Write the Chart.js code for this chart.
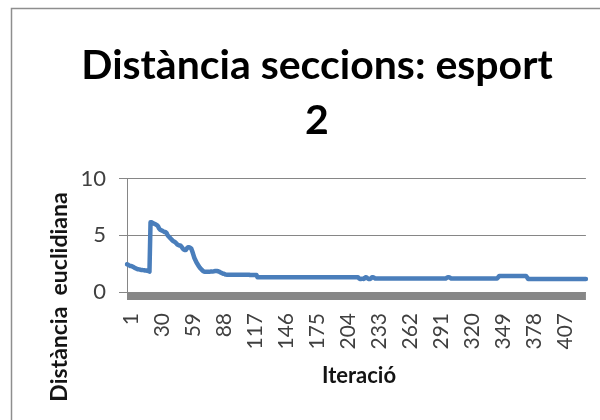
<!DOCTYPE html>
<html>
<head>
<meta charset="utf-8">
<script src="https://cdn.jsdelivr.net/npm/chart.js@4.4.1/dist/chart.umd.min.js"></script>
<style>
  html, body { margin: 0; padding: 0; background: #fff; }
  #wrap { width: 600px; height: 420px; }
</style>
</head>
<body>
<div id="wrap"><canvas id="c" width="600" height="420"></canvas></div>
<script>
// Text drawn on the chart
const chartTitle = ['Distància seccions: esport', '2'];
const yAxisTitle = 'Distància  euclidiana';
const xAxisTitle = 'Iteració';

// Labelled iterations on the horizontal axis
const tickLabels = ['1', '30', '59', '88', '117', '146', '175', '204', '233',
                    '262', '291', '320', '349', '378', '407'];

// Euclidean distance between sections, one value per iteration (1..430)
const distancia = [
  2.45, 2.4, 2.35, 2.3, 2.3, 2.25, 2.2, 2.15, 2.1, 2.05,          // 1-10
  2.0, 2.0, 1.98, 1.95, 1.95, 1.93, 1.92, 1.9, 1.9, 1.88,         // 11-20
  1.85, 1.8, 6.15, 6.15, 6.1, 6.05, 6.0, 5.95, 5.9, 5.8,          // 21-30
  5.6, 5.5, 5.45, 5.4, 5.35, 5.3, 5.3, 5.2, 5.0, 4.9,             // 31-40
  4.8, 4.7, 4.6, 4.5, 4.45, 4.4, 4.3, 4.2, 4.15, 4.1,             // 41-50
  4.1, 4.0, 3.85, 3.75, 3.7, 3.7, 3.85, 3.95, 3.95, 3.9,          // 51-60
  3.85, 3.6, 3.3, 3.0, 2.8, 2.6, 2.45, 2.3, 2.15, 2.05,           // 61-70
  1.95, 1.85, 1.8, 1.78, 1.78, 1.78, 1.78, 1.78, 1.8, 1.8,        // 71-80
  1.8, 1.82, 1.85, 1.85, 1.85, 1.83, 1.8, 1.75, 1.7, 1.65,        // 81-90
  1.6, 1.6, 1.55, 1.53, 1.53, 1.52, 1.52, 1.52, 1.52, 1.52,       // 91-100
  1.52, 1.52, 1.52, 1.52, 1.52, 1.52, 1.52, 1.52, 1.52, 1.52,     // 101-110
  1.52, 1.52, 1.52, 1.52, 1.52, 1.5, 1.5, 1.5, 1.5, 1.5,          // 111-120
  1.5, 1.5, 1.3, 1.3, 1.3, 1.3, 1.3, 1.3, 1.3, 1.3,               // 121-130
  1.3, 1.3, 1.3, 1.3, 1.3, 1.3, 1.3, 1.3, 1.3, 1.3,               // 131-140
  1.3, 1.3, 1.3, 1.3, 1.3, 1.3, 1.3, 1.3, 1.3, 1.3,               // 141-150
  1.3, 1.3, 1.3, 1.3, 1.3, 1.3, 1.3, 1.3, 1.3, 1.3,               // 151-160
  1.3, 1.3, 1.3, 1.3, 1.3, 1.3, 1.3, 1.3, 1.3, 1.3,               // 161-170
  1.3, 1.3, 1.3, 1.3, 1.3, 1.3, 1.3, 1.3, 1.3, 1.3,               // 171-180
  1.3, 1.3, 1.3, 1.3, 1.3, 1.3, 1.3, 1.3, 1.3, 1.3,               // 181-190
  1.3, 1.3, 1.3, 1.3, 1.3, 1.3, 1.3, 1.3, 1.3, 1.3,               // 191-200
  1.3, 1.3, 1.3, 1.3, 1.3, 1.3, 1.3, 1.3, 1.3, 1.3,               // 201-210
  1.3, 1.3, 1.3, 1.3, 1.3, 1.3, 1.3, 1.2, 1.15, 1.15,             // 211-220
  1.18, 1.15, 1.2, 1.3, 1.28, 1.2, 1.15, 1.15, 1.2, 1.3,          // 221-230
  1.3, 1.25, 1.2, 1.2, 1.2, 1.2, 1.2, 1.2, 1.2, 1.2,              // 231-240
  1.2, 1.2, 1.2, 1.2, 1.2, 1.2, 1.2, 1.2, 1.2, 1.2,               // 241-250
  1.2, 1.2, 1.2, 1.2, 1.2, 1.2, 1.2, 1.2, 1.2, 1.2,               // 251-260
  1.2, 1.2, 1.2, 1.2, 1.2, 1.2, 1.2, 1.2, 1.2, 1.2,               // 261-270
  1.2, 1.2, 1.2, 1.2, 1.2, 1.2, 1.2, 1.2, 1.2, 1.2,               // 271-280
  1.2, 1.2, 1.2, 1.2, 1.2, 1.2, 1.2, 1.2, 1.2, 1.2,               // 281-290
  1.2, 1.2, 1.2, 1.2, 1.2, 1.2, 1.2, 1.2, 1.2, 1.25,              // 291-300
  1.3, 1.3, 1.25, 1.2, 1.2, 1.2, 1.2, 1.2, 1.2, 1.2,              // 301-310
  1.2, 1.2, 1.2, 1.2, 1.2, 1.2, 1.2, 1.2, 1.2, 1.2,               // 311-320
  1.2, 1.2, 1.2, 1.2, 1.2, 1.2, 1.2, 1.2, 1.2, 1.2,               // 321-330
  1.2, 1.2, 1.2, 1.2, 1.2, 1.2, 1.2, 1.2, 1.2, 1.2,               // 331-340
  1.2, 1.2, 1.2, 1.2, 1.2, 1.2, 1.2, 1.3, 1.42, 1.42,             // 341-350
  1.42, 1.42, 1.42, 1.42, 1.42, 1.42, 1.42, 1.42, 1.42, 1.42,     // 351-360
  1.42, 1.42, 1.42, 1.42, 1.42, 1.42, 1.42, 1.42, 1.42, 1.42,     // 361-370
  1.42, 1.42, 1.42, 1.42, 1.3, 1.15, 1.15, 1.15, 1.15, 1.15,      // 371-380
  1.15, 1.15, 1.15, 1.15, 1.15, 1.15, 1.15, 1.15, 1.15, 1.15,     // 381-390
  1.15, 1.15, 1.15, 1.15, 1.15, 1.15, 1.15, 1.15, 1.15, 1.15,     // 391-400
  1.15, 1.15, 1.15, 1.15, 1.15, 1.15, 1.15, 1.15, 1.15, 1.15,     // 401-410
  1.15, 1.15, 1.15, 1.15, 1.15, 1.15, 1.15, 1.15, 1.15, 1.15,     // 411-420
  1.15, 1.15, 1.15, 1.15, 1.15, 1.15, 1.15, 1.15, 1.15, 1.15      // 421-430
];

// Iteration numbers used as categories
const iterations = distancia.map((_, i) => String(i + 1));

const FONT = 'Lato, "Open Sans", sans-serif';

// Outer frame, grey floor under the plot and the two axis titles
const chartFrame = {
  id: 'chartFrame',
  beforeDraw(chart) {
    const ctx = chart.ctx;
    ctx.save();
    ctx.fillStyle = '#ffffff';
    ctx.fillRect(0, 0, chart.width, chart.height);
    ctx.strokeStyle = '#8e8e8e';
    ctx.lineWidth = 1.5;
    ctx.beginPath();
    ctx.moveTo(11.5, chart.height);
    ctx.lineTo(11.5, 8.5);
    ctx.lineTo(chart.width, 8.5);
    ctx.stroke();
    ctx.restore();
  },
  beforeDatasetsDraw(chart) {
    const ctx = chart.ctx;
    const area = chart.chartArea;
    const y0 = chart.scales.y.getPixelForValue(0);
    ctx.save();
    ctx.fillStyle = '#878787';
    ctx.fillRect(area.left, y0, area.right - area.left, 8);
    ctx.restore();
  },
  afterDraw(chart) {
    const ctx = chart.ctx;
    ctx.save();
    ctx.fillStyle = '#141414';
    ctx.textAlign = 'center';
    ctx.textBaseline = 'middle';
    ctx.font = 'bold 22px ' + FONT;
    ctx.fillText(xAxisTitle, 359, 376);
    ctx.translate(60, 297);
    ctx.rotate(-Math.PI / 2);
    ctx.font = 'bold 23px ' + FONT;
    ctx.fillText(yAxisTitle, 0, 0);
    ctx.restore();
  }
};

new Chart(document.getElementById('c'), {
  type: 'line',
  data: {
    labels: iterations,
    datasets: [{
      data: distancia,
      borderColor: '#4a7ebb',
      borderWidth: 4.5,
      pointRadius: 0,
      tension: 0,
      borderJoinStyle: 'round',
      borderCapStyle: 'round',
      fill: false
    }]
  },
  options: {
    responsive: false,
    animation: false,
    devicePixelRatio: 1,
    layout: { padding: { left: 43, right: 9, top: 0, bottom: 0 } },
    plugins: {
      legend: { display: false },
      tooltip: { enabled: false },
      title: {
        display: true,
        text: chartTitle,
        color: '#000',
        font: { family: FONT, weight: 'bold', size: 41, lineHeight: 1.35 },
        padding: { top: 38, bottom: 30 }
      }
    },
    scales: {
      x: {
        type: 'category',
        offset: false,
        grid: { display: false },
        border: { display: false },
        ticks: {
          autoSkip: false,
          minRotation: 90,
          maxRotation: 90,
          padding: 13,
          labelOffset: 4,
          color: '#404040',
          font: { family: FONT, size: 21 },
          callback: (v, i) => tickLabels.includes(iterations[i]) ? iterations[i] : null
        },
        afterFit: s => { s.height = 128; }
      },
      y: {
        min: 0,
        max: 10,
        grid: { color: '#868686', lineWidth: 1, tickLength: 8, drawTicks: true },
        border: { color: '#868686', width: 1 },
        ticks: {
          stepSize: 5,
          padding: 13,
          color: '#404040',
          font: { family: FONT, size: 22 }
        },
        afterFit: s => { s.width = 84; }
      }
    }
  },
  plugins: [chartFrame]
});
</script>
</body>
</html>
